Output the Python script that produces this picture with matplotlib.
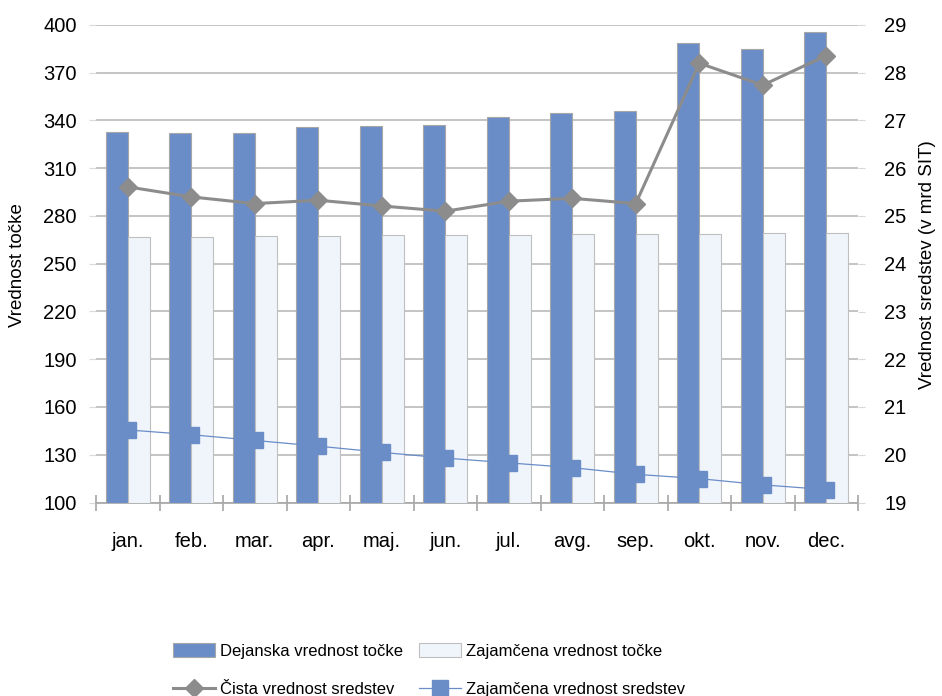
import matplotlib
matplotlib.use("Agg")
import matplotlib.pyplot as plt
from matplotlib import font_manager as fm
import numpy as np

names = {f.name for f in fm.fontManager.ttflist}
FONT = "Liberation Sans Narrow" if "Liberation Sans Narrow" in names else "Liberation Sans"
plt.rcParams["font.family"] = [FONT, "DejaVu Sans"]

months = ["jan.", "feb.", "mar.", "apr.", "maj.", "jun.", "jul.", "avg.", "sep.", "okt.", "nov.", "dec."]
dejanska = [332.5, 332.0, 332.0, 335.7, 336.5, 337.0, 342.0, 344.7, 346.0, 388.6, 384.8, 395.8]
zajamcena_tocka = [266.7, 267.0, 267.3, 267.5, 267.8, 268.0, 268.2, 268.5, 268.7, 268.9, 269.1, 269.4]
cista_sredstva = [25.61, 25.40, 25.26, 25.33, 25.21, 25.10, 25.31, 25.37, 25.26, 28.20, 27.74, 28.36]
zajamcena_sredstva = [20.52, 20.42, 20.30, 20.18, 20.05, 19.93, 19.83, 19.73, 19.59, 19.50, 19.37, 19.27]

DARK = "#6A8DC8"
LIGHT = "#F0F5FC"
GRAY = "#8C8C8C"
GRID = "#BFBFBF"

fig = plt.figure(figsize=(9.42, 6.96), dpi=100)
ax = fig.add_axes([96/942, 1-502.5/696, (858-96)/942, (502.5-25)/696])
ax2 = ax.twinx()

x = np.arange(len(months))
w = 0.346
ax.bar(x - w/2, [v - 100 for v in dejanska], w, bottom=100, color=DARK, edgecolor="#A6A6A6", linewidth=0.8, zorder=3,
       label="Dejanska vrednost točke")
ax.bar(x + w/2, [v - 100 for v in zajamcena_tocka], w, bottom=100, color=LIGHT, edgecolor="#BFBFBF", linewidth=0.8, zorder=3,
       label="Zajamčena vrednost točke")

ax.set_ylim(100, 400)
ax.set_yticks(np.arange(100, 401, 30))
ax.set_xlim(-0.5, 11.5)
ax.yaxis.grid(True, color=GRID, linewidth=1.3, zorder=0)
ax.set_axisbelow(True)

ax2.plot(x, cista_sredstva, color=GRAY, linewidth=2.2, marker="D", markersize=9, label="Čista vrednost sredstev", zorder=5)
ax2.plot(x, zajamcena_sredstva, color=DARK, linewidth=0.9, marker="s", markersize=11, label="Zajamčena vrednost sredstev", zorder=5)
ax2.set_ylim(19, 29)
ax2.set_yticks(np.arange(19, 30, 1))

for a in (ax, ax2):
    for s in ("top", "left", "right"):
        a.spines[s].set_visible(False)
ax2.spines["bottom"].set_visible(False)
ax.spines["bottom"].set_color("#A6A6A6")
ax.spines["bottom"].set_linewidth(1.2)

ax.set_xticks(np.arange(-0.5, 12, 1))
ax.set_xticklabels([])
ax.tick_params(axis="x", which="major", direction="inout", length=12, color="#A6A6A6", width=1.2)
ax.set_xticks(x, minor=True)
ax.set_xticklabels(months, minor=True)
ax.tick_params(axis="x", which="minor", length=0, pad=21, labelsize=14.5)

ax.tick_params(axis="y", length=5, color="#D9D9D9", pad=9, labelsize=14.5)
ax2.tick_params(axis="y", length=5, color="#D9D9D9", pad=14, labelsize=14.5)

fig.text(18/942, 1-265/696, "Vrednost točke", rotation=90, va="center", ha="center", fontsize=13.5)
fig.text(927/942, 1-265/696, "Vrednost sredstev (v mrd SIT)", rotation=90, va="center", ha="center", fontsize=13.5)

h1, l1 = ax.get_legend_handles_labels()
h2, l2 = ax2.get_legend_handles_labels()
handles = [h1[0], h2[0], h1[1], h2[1]]
labels = [l1[0], l2[0], l1[1], l2[1]]
fig.legend(handles, labels, ncol=2, loc="center left", bbox_to_anchor=(173/942, 1-670/696),
           frameon=False, fontsize=12, handlelength=2.5, handletextpad=0.3, columnspacing=1.0,
           labelspacing=1.35, borderpad=0, borderaxespad=0, handleheight=0.9)

fig.savefig("out.png", dpi=100)
